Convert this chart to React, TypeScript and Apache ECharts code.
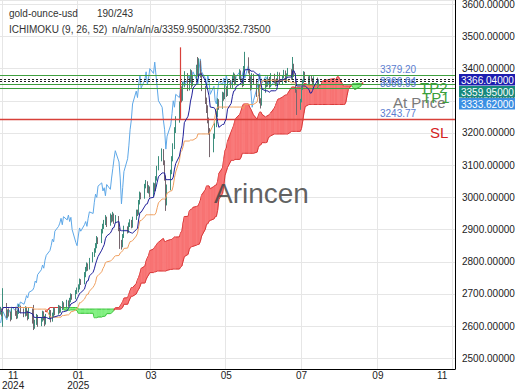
import React, { useEffect, useRef } from "react";
import * as echarts from "echarts";

// ---------- data ----------
const START_DATE = "2024-10-30"; // first bar / left edge of the time axis
const AXIS_DAYS = 369; // calendar days shown on the axis (to early Nov 2025)
const FIRST_OPEN = 2642;

const closes = [
  2650, 2640, 2668, 2632, 2645, 2638, 2625, 2650, 2642, 2630,
  2645, 2660, 2648, 2635, 2655, 2640, 2628, 2650, 2615, 2600,
  2612, 2630, 2605, 2620, 2640, 2625, 2610, 2630, 2645, 2620,
  2635, 2650, 2640, 2660, 2648, 2655, 2670, 2660, 2675, 2668,
  2680, 2695, 2688, 2705, 2712, 2720, 2740, 2735, 2760, 2775,
  2790, 2780, 2805, 2820, 2835, 2850, 2870, 2862, 2895, 2910,
  2920, 2935, 2915, 2940, 2930, 2945, 2925, 2938, 2900, 2860,
  2850, 2880, 2905, 2895, 2915, 2925, 2910, 2935, 2955, 2950,
  2985, 3010, 3000, 3035, 3045, 3020, 3030, 3005, 3040, 3025,
  3060, 3090, 3120, 3145, 3110, 3060, 2980, 3030, 3080, 3120,
  3160, 3210, 3240, 3290, 3330, 3310, 3350, 3380, 3340, 3365,
  3390, 3350, 3370, 3400, 3385, 3420, 3380, 3340, 3300, 3280,
  3240, 3210, 3150, 3190, 3225, 3260, 3300, 3280, 3320, 3310,
  3340, 3320, 3360, 3345, 3370, 3380, 3355, 3370, 3390, 3365,
  3350, 3400, 3430, 3390, 3370, 3340, 3380, 3360, 3320, 3345,
  3300, 3290, 3330, 3360, 3350, 3370, 3345, 3380, 3360, 3350,
  3365, 3385, 3355, 3375, 3390, 3360, 3380, 3395, 3370, 3410,
  3380, 3330, 3280, 3300, 3340, 3360, 3385, 3370, 3355, 3375,
  3365, 3350, 3370, 3345, 3359.95,
];
const highs = [
  2660, 2655, 2718, 2672, 2652, 2655, 2645, 2656, 2660, 2648,
  2652, 2668, 2664, 2655, 2662, 2660, 2648, 2658, 2655, 2666,
  2620, 2638, 2635, 2628, 2648, 2646, 2632, 2638, 2652, 2650,
  2642, 2658, 2656, 2666, 2664, 2662, 2678, 2674, 2682, 2680,
  2688, 2702, 2700, 2712, 2720, 2730, 2748, 2746, 2768, 2784,
  2798, 2795, 2812, 2830, 2842, 2858, 2880, 2876, 2902, 2918,
  2930, 2945, 2940, 2950, 2946, 2955, 2950, 2945, 2942, 2905,
  2868, 2886, 2912, 2910, 2922, 2932, 2930, 2940, 2962, 2962,
  2992, 3018, 3015, 3042, 3054, 3050, 3038, 3034, 3046, 3044,
  3066, 3098, 3128, 3152, 3150, 3115, 3068, 3040, 3086, 3128,
  3168, 3218, 3252, 3298, 3340, 3345, 3358, 3392, 3386, 3372,
  3398, 3395, 3380, 3412, 3436, 3432, 3425, 3388, 3346, 3310,
  3286, 3248, 3215, 3198, 3232, 3268, 3308, 3305, 3328, 3326,
  3348, 3345, 3366, 3364, 3378, 3388, 3384, 3376, 3398, 3394,
  3370, 3408, 3452, 3435, 3396, 3376, 3386, 3384, 3365, 3350,
  3350, 3308, 3336, 3368, 3364, 3376, 3374, 3386, 3384, 3366,
  3370, 3390, 3388, 3380, 3396, 3394, 3385, 3402, 3398, 3436,
  3415, 3386, 3335, 3306, 3345, 3366, 3392, 3390, 3376, 3380,
  3380, 3370, 3376, 3372, 3364,
];
const lows = [
  2636, 2630, 2598, 2625, 2626, 2630, 2615, 2620, 2632, 2622,
  2624, 2638, 2640, 2628, 2630, 2632, 2618, 2622, 2608, 2588,
  2592, 2604, 2598, 2600, 2614, 2618, 2600, 2605, 2622, 2612,
  2614, 2628, 2634, 2636, 2640, 2642, 2650, 2654, 2655, 2660,
  2662, 2674, 2682, 2684, 2700, 2705, 2714, 2728, 2730, 2752,
  2770, 2772, 2776, 2798, 2815, 2828, 2842, 2855, 2858, 2888,
  2902, 2914, 2908, 2912, 2922, 2925, 2918, 2920, 2895, 2840,
  2838, 2845, 2874, 2888, 2890, 2908, 2904, 2906, 2930, 2942,
  2946, 2978, 2994, 2996, 3028, 3014, 3012, 3000, 3002, 3018,
  3020, 3052, 3084, 3112, 3100, 3052, 2958, 2975, 3022, 3072,
  3112, 3150, 3200, 3232, 3280, 3295, 3300, 3342, 3330, 3332,
  3358, 3340, 3345, 3362, 3375, 3378, 3372, 3330, 3290, 3262,
  3230, 3195, 3125, 3140, 3182, 3218, 3250, 3272, 3275, 3300,
  3305, 3312, 3315, 3338, 3340, 3362, 3348, 3350, 3366, 3358,
  3342, 3346, 3395, 3385, 3362, 3332, 3335, 3352, 3312, 3315,
  3292, 3276, 3285, 3325, 3342, 3344, 3340, 3342, 3354, 3345,
  3346, 3360, 3350, 3350, 3370, 3355, 3356, 3375, 3365, 3366,
  3374, 3325, 3256, 3272, 3295, 3334, 3355, 3362, 3348, 3350,
  3360, 3344, 3346, 3340, 3342,
];

const levelTP2 = 3379.2;
const levelAt1 = 3366.04;
const levelAt2 = 3359.95;
const levelTP1a = 3352.735;
const levelTP1b = 3340.0;
const levelSL = 3243.77;
const entryTop = 3466;
const entryDay = 146; // calendar index of the red entry marker
const axisTags = ["3366.04000", "3359.95000", "3333.62000"];
const headerName = "gold-ounce-usd";
const headerCount = "190/243";
const headerInd = "ICHIMOKU (9, 26, 52)";
const headerVals = "n/a/n/a/n/a/3359.95000/3352.73500";

// ---------- derived ----------
const DAY = 86400000;
const START = Date.parse(START_DATE + "T00:00:00Z");
const categories = Array.from({ length: AXIS_DAYS }, (_, i) =>
  new Date(START + i * DAY).toISOString().slice(0, 10)
);
const nBars = closes.length;
const tradingIdx: number[] = [];
for (let i = 0; tradingIdx.length < nBars + 27 && i < 500; i++) {
  const wd = new Date(START + i * DAY).getUTCDay();
  if (wd !== 0 && wd !== 6) tradingIdx.push(i);
}
const opens = closes.map((c, i) => (i === 0 ? FIRST_OPEN : closes[i - 1]));
function midRange(p: number, i: number) {
  let hi = -Infinity;
  let lo = Infinity;
  for (let j = Math.max(0, i - p + 1); j <= i; j++) {
    hi = Math.max(hi, highs[j]);
    lo = Math.min(lo, lows[j]);
  }
  return (hi + lo) / 2;
}
const tenkan = closes.map((_, i) => midRange(9, i));
const kijun = closes.map((_, i) => midRange(26, i));
const spanA = tenkan.map((t, i) => (t + kijun[i]) / 2);
const spanB = closes.map((_, i) => midRange(52, i));

const candleData = closes.map((c, i) => [tradingIdx[i], opens[i], c, lows[i], highs[i]]);
const tenkanData = tenkan.map((v, i) => [tradingIdx[i], v]);
const kijunData = kijun.map((v, i) => [tradingIdx[i], v]);
const chikouData: number[][] = [];
for (let k = 26; k < nBars; k++) chikouData.push([tradingIdx[k - 26], closes[k]]);
const cloudData: number[][] = [];
for (let i = 0; i < nBars - 1; i++) {
  cloudData.push([
    tradingIdx[i + 26], spanA[i], spanB[i],
    tradingIdx[i + 27], spanA[i + 1], spanB[i + 1],
  ]);
}

const isLabelDay = (idx: number) => {
  const s = categories[idx];
  if (!s) return false;
  return s.slice(8) === "01" && parseInt(s.slice(5, 7), 10) % 2 === 1;
};

const FONT = "Liberation Sans, Arial, sans-serif";

export default function App() {
  const ref = useRef<HTMLDivElement>(null);
  useEffect(() => {
    if (!ref.current) return;
    const chart = echarts.init(ref.current, undefined, { renderer: "svg" });
    const green = "#3f9f3f";
    chart.setOption({
      animation: false,
      textStyle: { fontFamily: FONT },
      grid: { left: 0, right: 65, top: 0, bottom: 21, containLabel: false, outerBoundsMode: "none" },
      xAxis: {
        type: "category",
        data: categories,
        boundaryGap: true,
        axisLine: { lineStyle: { color: "#000", width: 1 } },
        axisTick: { show: false },
        splitLine: {
          show: true,
          interval: (i: number) => isLabelDay(i),
          lineStyle: { color: "#e6e6e6" },
        },
        axisLabel: {
          interval: (i: number) => isLabelDay(i),
          margin: 1,
          color: "#222",
          fontSize: 10,
          lineHeight: 10,
          formatter: (v: string) => {
            const m = v.slice(5, 7);
            const y = v.slice(0, 4);
            if (v === "2024-11-01") return `{f|${m}}\n{f|${y}}`;
            if (v === "2025-11-01") return `{l|${m}}`;
            if (m === "01") return `${m}\n${y}`;
            return m;
          },
          rich: {
            f: { fontSize: 10, color: "#222", lineHeight: 10, padding: [0, 0, 0, 20] },
            l: { fontSize: 10, color: "#222", lineHeight: 10, padding: [0, 22, 0, 0] },
          },
        },
      },
      yAxis: {
        type: "value",
        position: "right",
        min: 2467,
        max: 3613,
        splitNumber: 11,
        axisLine: { show: true, lineStyle: { color: "#000" } },
        axisTick: { show: false },
        splitLine: { lineStyle: { color: "#e6e6e6" } },
        axisLabel: {
          margin: 7,
          color: "#222",
          fontSize: 10,
          showMinLabel: false,
          showMaxLabel: false,
          formatter: (v: number) => v.toFixed(5),
        },
      },
      series: [
        {
          type: "custom",
          name: "cloud",
          encode: { x: [0, 3], y: [1, 2, 4, 5] },
          data: cloudData,
          z: 1,
          renderItem: (_p: any, api: any) => {
            const x0 = api.value(0), a0 = api.value(1), b0 = api.value(2);
            const x1 = api.value(3), a1 = api.value(4), b1 = api.value(5);
            const pa0 = api.coord([x0, a0]);
            const pa1 = api.coord([x1, a1]);
            const pb0 = api.coord([x0, b0]);
            const pb1 = api.coord([x1, b1]);
            const red = a0 + a1 >= b0 + b1;
            const fill = red ? "#f87373" : "#7ff07f";
            const edge = red ? "#d83a3a" : "#3cc03c";
            return {
              type: "group",
              children: [
                {
                  type: "polygon",
                  shape: { points: [pa0, pa1, pb1, pb0] },
                  style: { fill, stroke: fill, lineWidth: 0.6 },
                },
                {
                  type: "line",
                  shape: { x1: pa0[0], y1: pa0[1], x2: pa1[0], y2: pa1[1] },
                  style: { stroke: edge, lineWidth: 1 },
                },
                {
                  type: "line",
                  shape: { x1: pb0[0], y1: pb0[1], x2: pb1[0], y2: pb1[1] },
                  style: { stroke: edge, lineWidth: 1 },
                },
              ],
            };
          },
        },
        {
          type: "line",
          name: "chikou",
          data: chikouData,
          showSymbol: false,
          lineStyle: { color: "#5ea8e8", width: 1 },
          z: 3,
        },
        {
          type: "candlestick",
          name: "price",
          data: candleData,
          encode: { x: 0, y: [1, 2, 3, 4] },
          barWidth: 1,
          z: 4,
          itemStyle: {
            color: "#3d8f7d",
            color0: "#76666e",
            borderColor: "#3d8f7d",
            borderColor0: "#76666e",
            borderWidth: 1,
          },
          markLine: {
            symbol: "none",
            silent: true,
            label: { show: false },
            data: [
              { yAxis: levelTP2, lineStyle: { color: green, type: "solid", width: 1 } },
              { yAxis: levelAt1, lineStyle: { color: "#222", type: [2, 2], width: 1 } },
              { yAxis: levelAt2, lineStyle: { color: "#222", type: [2, 2], width: 1 } },
              { yAxis: levelTP1a, lineStyle: { color: green, type: "solid", width: 1 } },
              { yAxis: levelTP1b, lineStyle: { color: green, type: "solid", width: 1 } },
              { yAxis: levelSL, lineStyle: { color: "#d8403a", type: "solid", width: 1.3 } },
              [
                { coord: [entryDay, entryTop], lineStyle: { color: "#d8403a", type: "solid", width: 1.2 } },
                { coord: [entryDay, levelSL] },
              ],
            ],
          },
        },
        {
          type: "line",
          name: "kijun",
          data: kijunData,
          showSymbol: false,
          lineStyle: { color: "#f0a060", width: 1 },
          z: 5,
        },
        {
          type: "line",
          name: "tenkan",
          data: tenkanData,
          showSymbol: false,
          lineStyle: { color: "#20209a", width: 1 },
          z: 6,
        },
      ],
    });

    const py = (v: number) => chart.convertToPixel({ yAxisIndex: 0 }, v) as number;
    const txt = (text: string, x: number, y: number, size: number, fill: string, extra: any = {}) => ({
      type: "text",
      x,
      y,
      z: 100,
      silent: true,
      style: { text, fill, font: `${size}px ${FONT}`, verticalAlign: "middle", align: "left", ...extra },
    });
    const tagColors = ["#1d1db0", "#17897c", "#3b8fe3"];
    const tagTop = [74, 86, 98];
    const graphics: any[] = [
      txt(headerName, 9, 13, 10, "#333"),
      txt(headerCount, 97, 13, 10, "#333"),
      txt(headerInd, 9, 29, 10, "#333"),
      txt(headerVals, 112, 29, 10, "#333"),
      txt("Arincen", 214, 193, 28, "rgba(70,70,70,0.85)"),
      txt(levelTP2.toFixed(2), 380, py(levelTP2) - 6, 10, "#5a7dd0"),
      txt(levelAt1.toFixed(2), 380, py(levelAt1) + 2, 10, "#5a7dd0"),
      txt(levelAt2.toFixed(2), 380, py(levelAt2) + 2, 10, "#5a7dd0"),
      txt(levelSL.toFixed(2), 380, py(levelSL) - 5, 10, "#5a7dd0"),
      txt("At Price", 393, 102, 15, "#7a7a7a"),
      txt("TP2", 420, 87, 15, "#3a9f3a"),
      txt("TP1", 422, 97, 15, "#3a9f3a"),
      txt("SL", 430, 132, 15, "#d42222"),
    ];
    axisTags.forEach((t, i) => {
      graphics.push({
        type: "rect",
        z: 100,
        silent: true,
        shape: { x: 459, y: tagTop[i], width: 56, height: 11.5 },
        style: { fill: tagColors[i] },
      });
      graphics.push(txt(t, 461, tagTop[i] + 6, 10, "#fff"));
    });
    chart.setOption({ graphic: graphics });

    return () => chart.dispose();
  }, []);
  return (
    <div
      ref={ref}
      style={{ position: "absolute", left: 0, top: 0, width: 520, height: 390 }}
    />
  );
}
